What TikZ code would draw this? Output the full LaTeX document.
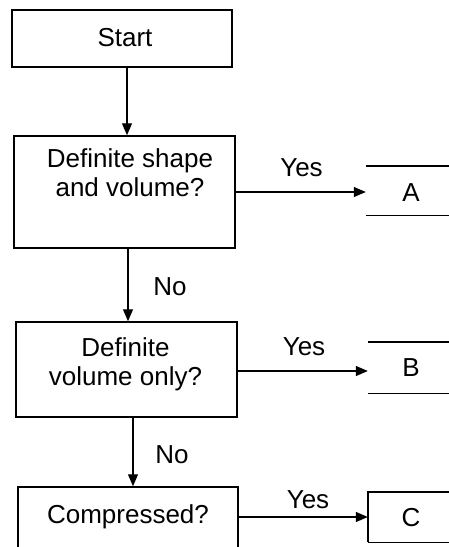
\documentclass[tikz,border=0pt]{standalone}
\usepackage{fontspec}
\setmainfont{Liberation Sans}
\usetikzlibrary{arrows.meta}
\begin{document}
\begin{tikzpicture}[x=1pt,y=-1pt,
  font=\fontsize{26}{29}\selectfont,
  box/.style={draw, line width=1.5pt, inner sep=0pt},
  result/.style={inner sep=0pt, minimum width=130pt},
  txt/.style={inner sep=0pt, align=center},
  flow/.style={line width=1.3pt, -{Triangle[length=12pt,width=10pt]}},
  edge/.style={line width=1.4pt}]
\useasboundingbox (0,0) rectangle (449,547);
\clip (0,0) rectangle (449,547);

% question boxes
\node[box, line width=1.9pt, minimum width=220pt, minimum height=57pt] (start) at (122,38.5) {};
\node[txt] (starttxt) at (125,38) {Start};

\node[box, minimum width=221pt, minimum height=112pt] (q1) at (124.5,192) {};
\node[txt] (q1txt) at (130,173) {Definite shape\\and volume?};

\node[box, minimum width=221pt, minimum height=95pt] (q2) at (126.5,369.5) {};
\node[txt] (q2txt) at (125.5,364) {Definite\\volume only?};

\node[box, minimum width=220pt, minimum height=100pt] (q3) at (128,537) {};
\node[txt] (q3txt) at (128,517) {Compressed?};

% result boxes, running off the right edge
\node[result, minimum height=49pt] (A) at (431,190.5) {};
\node[txt] (Atxt) at (411,193) {A};
\node[result, minimum height=51pt] (B) at (433,367.5) {};
\node[txt] (Btxt) at (411,368) {B};
\node[result, minimum height=50pt] (C) at (433,517) {};
\node[txt] (Ctxt) at (411,518) {C};

\draw[edge] (A.north west) -- (A.north east);
\draw[edge] (A.south west) -- (A.south east);
\draw[edge] (B.north west) -- (B.north east);
\draw[edge] (B.south west) -- (B.south east);
\draw[edge] (C.south west) -- (C.north west) -- (C.north east);
\draw[edge] (C.south west) -- (C.south east);

% connectors
\draw[flow] ([xshift=5pt]start.south) -- ([xshift=2.5pt]q1.north);
\draw[flow] ([xshift=3.5pt]q1.south) -- ([xshift=1.5pt]q2.north);
\draw[flow] ([xshift=6.5pt]q2.south) -- ([xshift=5pt]q3.north);

\draw[flow] (q1.east) -- (q1.east -| A.west);
\draw[flow] ([yshift=-1.5pt]q2.east) -- ([yshift=-1.5pt]q2.east -| B.west);
\draw[flow] (q3.east |- q3txt) -- (q3txt -| C.west);

% branch labels
\node[txt] (yes1) at (301.5,168) {Yes};
\node[txt] (yes2) at (304,347) {Yes};
\node[txt] (yes3) at (308,500) {Yes};
\node[txt] (no1) at (170,287) {No};
\node[txt] (no2) at (172,455) {No};
\end{tikzpicture}
\end{document}
